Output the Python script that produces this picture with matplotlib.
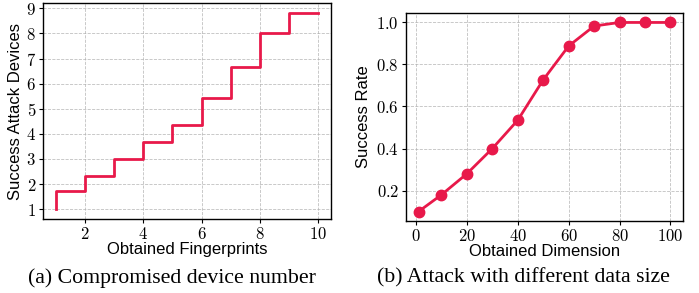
import matplotlib
matplotlib.use("Agg")
import matplotlib.pyplot as plt

# (a) 取得フィンガープリント数 vs 攻撃成功デバイス数
fp_x = [1, 2, 3, 4, 5, 6, 7, 8, 9, 10]
fp_y = [1.0, 1.73, 2.31, 2.98, 3.66, 4.35, 5.42, 6.67, 8.02, 8.82]
fp_yticks = [1, 2, 3, 4, 5, 6, 7, 8, 9]
fp_xticks = [2, 4, 6, 8, 10]

# (b) 取得次元 vs 成功率
dim_x = [1, 10, 20, 30, 40, 50, 60, 70, 80, 90, 100]
dim_y = [0.10, 0.18, 0.28, 0.40, 0.535, 0.727, 0.888, 0.983, 1.0, 1.0, 1.0]
dim_yticks = [0.2, 0.4, 0.6, 0.8, 1.0]
dim_xticks = [0, 20, 40, 60, 80, 100]

RED = "#E8194A"
plt.rcParams["mathtext.fontset"] = "cm"
plt.rcParams["font.family"] = ["Liberation Sans", "DejaVu Sans"]

fig = plt.figure(figsize=(6.99, 2.93), dpi=100)
ax_a = fig.add_axes([43 / 699, 1 - 219 / 293, 288 / 699, 216 / 293])
ax_b = fig.add_axes([406 / 699, 1 - 221 / 293, 277 / 699, 208 / 293])


def style(ax, xticks, yticks, xfmt, yfmt):
    ax.set_xticks(xticks)
    ax.set_yticks(yticks)
    ax.set_xticklabels([xfmt(v) for v in xticks])
    ax.set_yticklabels([yfmt(v) for v in yticks])
    ax.tick_params(labelsize=12, length=3, width=0.8, pad=2)
    ax.grid(True, ls="--", lw=0.6, color="#b0b0b0", alpha=0.8)
    ax.set_axisbelow(True)
    for s in ax.spines.values():
        s.set_linewidth(1.0)
        s.set_color("black")


ax_a.plot(fp_x, fp_y, drawstyle="steps-pre", color=RED, lw=2)
style(ax_a, fp_xticks, fp_yticks, lambda v: f"${v}$", lambda v: f"${v}$")
ax_a.set_xlabel("Obtained Fingerprints", fontsize=12, labelpad=0)
ax_a.set_ylabel("Success Attack Devices", fontsize=12, labelpad=2)

ax_b.plot(dim_x, dim_y, color=RED, lw=2, marker="o", ms=7.5)
style(ax_b, dim_xticks, dim_yticks, lambda v: f"${v}$", lambda v: f"${v:.1f}$")
ax_b.set_xlabel("Obtained Dimension", fontsize=12, labelpad=0)
ax_b.set_ylabel("Success Rate", fontsize=12, labelpad=4)

cap = dict(fontsize=15.7, family="Liberation Serif", ha="center", va="center")
fig.text(172 / 699, 1 - 278 / 293, "(a) Compromised device number", **cap)
fig.text(523 / 699, 1 - 278 / 293, "(b) Attack with different data size", **cap)

fig.savefig("out.png", dpi=100)
plt.close(fig)
